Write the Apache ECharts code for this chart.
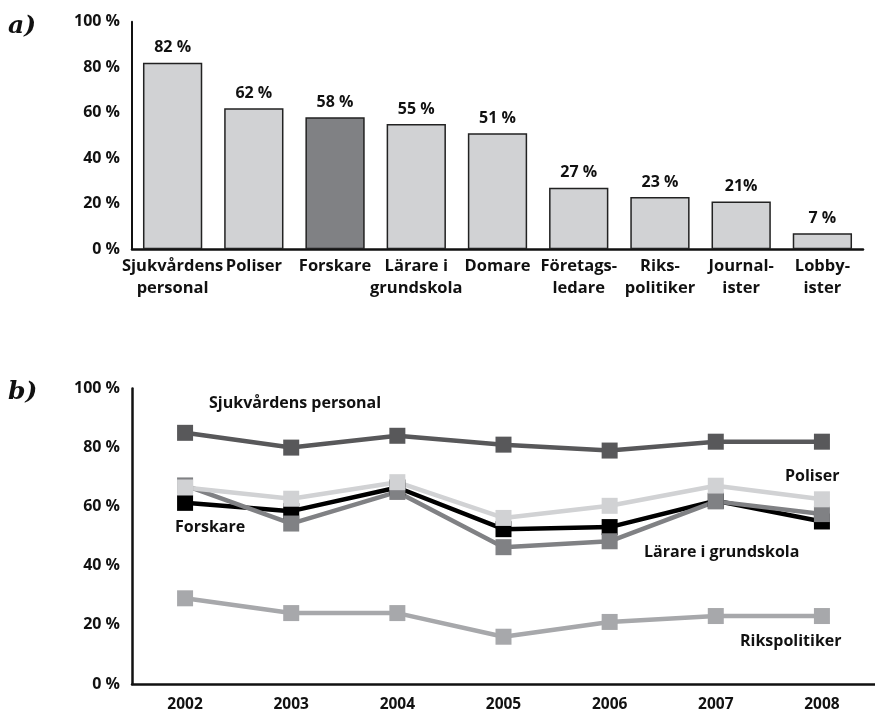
<!DOCTYPE html>
<html><head><meta charset="utf-8">
<script src="https://cdn.jsdelivr.net/npm/echarts@6/dist/echarts.min.js"></script>
<style>html,body{margin:0;padding:0;background:#fff}#c{width:875px;height:713px}</style>
</head><body><div id="c"></div>
<script>
// Panel a
const barCategories = ["Sjukvårdens\npersonal","Poliser","Forskare","Lärare i\ngrundskola","Domare","Företags-\nledare","Riks-\npolitiker","Journal-\nister","Lobby-\nister"];
const barValues = [82, 62, 58, 55, 51, 27, 23, 21, 7];
const barLabels = ["82 %","62 %","58 %","55 %","51 %","27 %","23 %","21%","7 %"];
const highlightCategory = "Forskare";
const yTicks = [0, 20, 40, 60, 80, 100];

// Panel b
const years = ["2002","2003","2004","2005","2006","2007","2008"];
const sjukvard = [85, 80, 84, 81, 79, 82, 82];
const poliser = [66.5, 62.7, 68.3, 56.2, 60.3, 67.1, 62.5];
const forskare = [61.3, 58.5, 66.5, 52.4, 53.1, 62, 55];
const larare = [67.2, 54.3, 65, 46.3, 48.3, 61.8, 57.5];
const rikspolitiker = [29, 24, 24, 16, 21, 23, 23];

const FONT = "Open Sans";
const chart = echarts.init(document.getElementById('c'), null, {renderer:'canvas'});

const axisLabelY = {fontFamily: FONT, fontWeight: 700, fontSize: 16, color: '#111', margin: 12,
  formatter: v => v + ' %'};

function lineSeries(name, data, color) {
  return {
    type: 'line', name, data, xAxisIndex: 1, yAxisIndex: 1,
    symbol: 'rect', symbolSize: 16, showSymbol: true,
    lineStyle: {color, width: 4.5}, itemStyle: {color},
    emphasis: {disabled: true}, animation: false
  };
}

function note(text, x, y) {
  return {type: 'text', x, y, style: {text, font: `bold 16px "${FONT}"`, fill: '#111', verticalAlign: 'middle'}};
}

chart.setOption({
  animation: false,
  grid: [
    {left: 132, top: 21.7, width: 731, height: 227.6},
    {left: 132, top: 388.5, width: 753, height: 297}
  ],
  xAxis: [
    {type: 'category', gridIndex: 0, data: barCategories,
     axisLine: {lineStyle: {color: '#111', width: 2.5}}, axisTick: {show: false},
     axisLabel: {fontFamily: FONT, fontWeight: 700, fontSize: 16.5, color: '#111', lineHeight: 22, margin: 6, interval: 0}},
    {type: 'category', gridIndex: 1, data: years,
     axisLine: {lineStyle: {color: '#111', width: 2.5}}, axisTick: {show: false},
     axisLabel: {fontFamily: FONT, fontWeight: 700, fontSize: 15.5, color: '#111', margin: 13}}
  ],
  yAxis: [
    {type: 'value', gridIndex: 0, min: 0, max: 100, interval: 20,
     axisLine: {show: true, lineStyle: {color: '#111', width: 2}}, axisTick: {show: false},
     splitLine: {show: false}, axisLabel: axisLabelY},
    {type: 'value', gridIndex: 1, min: 0, max: 100, interval: 20,
     axisLine: {show: true, lineStyle: {color: '#111', width: 2.5}}, axisTick: {show: false},
     splitLine: {show: false}, axisLabel: axisLabelY}
  ],
  series: [
    {type: 'bar', xAxisIndex: 0, yAxisIndex: 0, barCategoryGap: '27%',
     data: barValues.map((v, i) => ({value: v, itemStyle: {color: barCategories[i] === highlightCategory ? '#808184' : '#d1d2d4'}})),
     itemStyle: {borderColor: '#222', borderWidth: 1.5},
     label: {show: true, position: 'top', distance: 7, fontFamily: FONT, fontWeight: 700, fontSize: 16, color: '#111',
       formatter: p => barLabels[p.dataIndex]},
     emphasis: {disabled: true}},
    lineSeries('Sjukvårdens personal', sjukvard, '#58585a'),
    lineSeries('Rikspolitiker', rikspolitiker, '#a7a8ab'),
    lineSeries('Forskare', forskare, '#000000'),
    lineSeries('Lärare i grundskola', larare, '#808184'),
    lineSeries('Poliser', poliser, '#d1d2d4')
  ],
  graphic: [
    {type: 'text', left: 8, top: 14, style: {text: 'a)', font: 'italic bold 25px "DejaVu Serif"', fill: '#111'}},
    {type: 'text', left: 8, top: 380, style: {text: 'b)', font: 'italic bold 25px "DejaVu Serif"', fill: '#111'}},
    note('Sjukvårdens personal', 209, 403),
    note('Forskare', 175, 527),
    note('Poliser', 785, 476),
    note('Lärare i grundskola', 644, 552),
    note('Rikspolitiker', 740, 641)
  ]
});
</script></body></html>
